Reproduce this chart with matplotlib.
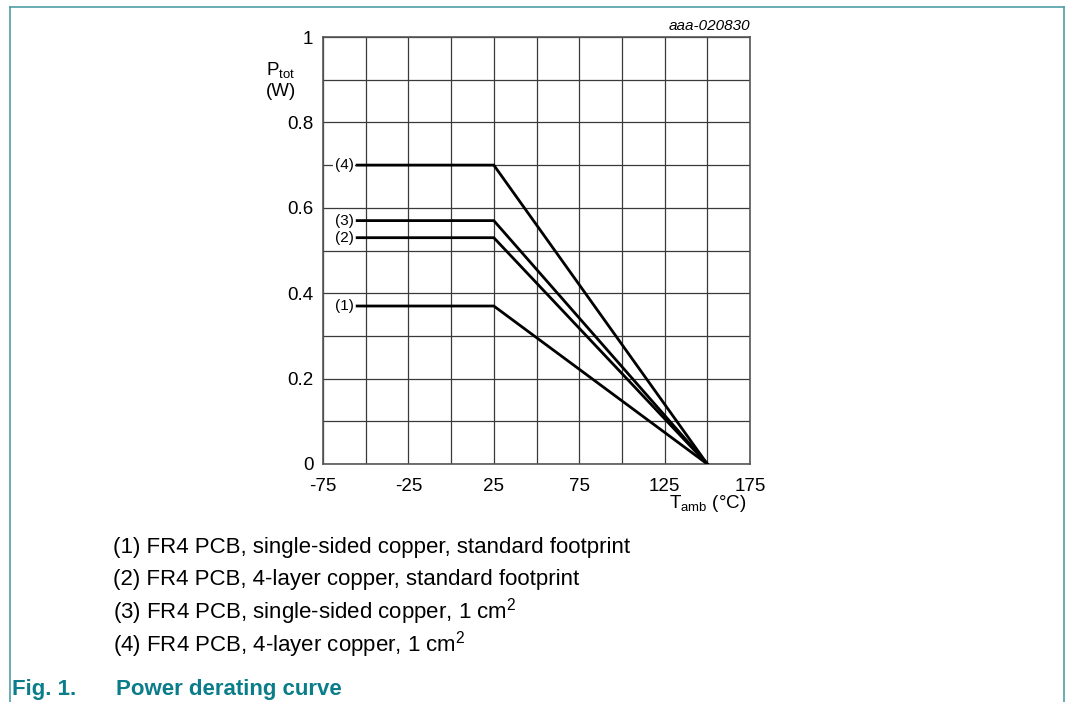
"""Power derating curve (Ptot vs Tamb)"""

import matplotlib
matplotlib.use('Agg')
import matplotlib.pyplot as plt
from matplotlib.lines import Line2D

plt.rcParams['font.family'] = ['Liberation Sans', 'DejaVu Sans']
plt.rcParams['mathtext.default'] = 'regular'

# data
temps = [-55, 25, 150]
curve_labels = ['(1)', '(2)', '(3)', '(4)']
p_flat = [0.37, 0.53, 0.57, 0.70]
legend_texts = [
    '(1) FR4 PCB, single-sided copper, standard footprint',
    '(2) FR4 PCB, 4-layer copper, standard footprint',
    '(3) FR4 PCB, single-sided copper, 1 cm$^2$',
    '(4) FR4 PCB, 4-layer copper, 1 cm$^2$',
]
x_ticks = [-75, -25, 25, 75, 125, 175]
y_ticks = [0, 0.2, 0.4, 0.6, 0.8, 1]

W, H = 1066, 702
fig = plt.figure(figsize=(W / 100, H / 100), dpi=100)

ax = fig.add_axes([323 / W, 1 - 464 / H, 427 / W, 427 / H])
ax.set_xlim(-75, 175)
ax.set_ylim(0, 1)
ax.set_xticks(x_ticks)
ax.set_xticklabels([str(t) for t in x_ticks])
ax.set_yticks(y_ticks)
ax.set_yticklabels(['0', '0.2', '0.4', '0.6', '0.8', '1'])
ax.set_xticks(range(-75, 176, 25), minor=True)
ax.set_yticks([i / 10 for i in range(11)], minor=True)
ax.tick_params(which='both', length=0, labelsize=13.5)
ax.tick_params(axis='x', pad=10)
ax.tick_params(axis='y', pad=7)
ax.grid(which='both', color='#3a3a3a', linewidth=0.9)
ax.set_axisbelow(True)
for sp in ax.spines.values():
    sp.set_color('#555555')
    sp.set_linewidth(1.2)

for lbl, p in zip(curve_labels, p_flat):
    ax.plot(temps, [p, p, 0], color='black', linewidth=2.0, solid_joinstyle='miter',
            zorder=3)
    ax.text(-57, p, lbl, ha='right', va='center', fontsize=11,
            bbox=dict(facecolor='white', edgecolor='none', pad=1.0), zorder=4)

fig.text(281 / W, 1 - 70 / H, r'P$_{tot}$', ha='center', va='center', fontsize=13.5)
fig.text(281 / W, 1 - 91 / H, '(W)', ha='center', va='center', fontsize=13.5)
fig.text(708 / W, 1 - 504 / H, r'T$_{amb}$ (°C)', ha='center', va='center', fontsize=13.5)
fig.text(750 / W, 1 - 26 / H, 'aaa-020830', ha='right', va='center', fontsize=11,
         style='italic')

for i, txt in enumerate(legend_texts):
    fig.text(113 / W, 1 - (547 + 32.5 * i) / H, txt, ha='left', va='center', fontsize=16)

fig.text(12 / W, 1 - 690 / H, 'Fig. 1.', ha='left', va='center', fontsize=16,
         fontweight='bold', color='#0b7d8a')
fig.text(116 / W, 1 - 690 / H, 'Power derating curve', ha='left', va='center',
         fontsize=16, fontweight='bold', color='#0b7d8a')

# teal frame (left, top, right)
frame_col = '#4f9ea6'
fig.add_artist(Line2D([10 / W, 10 / W], [0, 1 - 7 / H], color=frame_col, linewidth=1.2))
fig.add_artist(Line2D([10 / W, 1064 / W], [1 - 7 / H, 1 - 7 / H], color=frame_col,
                      linewidth=1.2))
fig.add_artist(Line2D([1064 / W, 1064 / W], [0, 1 - 7 / H], color=frame_col, linewidth=1.2))

fig.savefig('out.png', dpi=100)
